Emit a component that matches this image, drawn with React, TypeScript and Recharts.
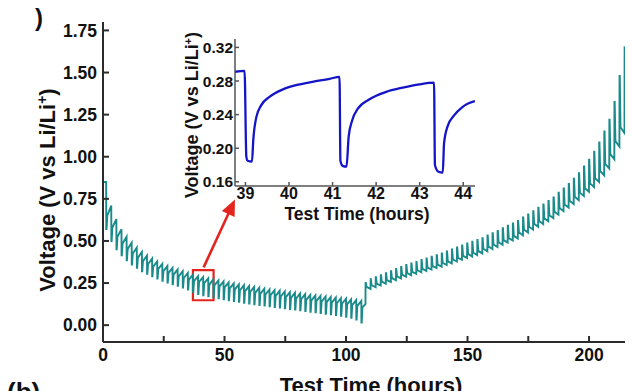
import React from 'react';
import { LineChart, Line, XAxis, YAxis, ReferenceArea, ReferenceLine } from 'recharts';

// ---------- main chart data (GITT cycles) ----------
const startVoltage = 0.85;

const dischargeTimes = [
  1.3, 3.4, 5.5, 7.6, 9.7, 11.8, 13.9, 16.0, 18.1, 20.2, 22.3, 24.4, 26.5, 28.6, 30.7, 32.8, 34.9,
  37.0, 39.1, 41.2, 43.3, 45.4, 47.5, 49.6, 51.7, 53.8, 55.9, 58.0, 60.1, 62.2, 64.3, 66.4, 68.5,
  70.6, 72.7, 74.8, 76.9, 79.0, 81.1, 83.2, 85.3, 87.4, 89.5, 91.6, 93.7, 95.8, 97.9, 100.0, 102.1,
  104.2, 106.3,
];
const dischargePeaks = [
  0.85, 0.71, 0.63, 0.57, 0.525, 0.49, 0.46, 0.435, 0.413, 0.395, 0.378, 0.364, 0.351, 0.34, 0.33,
  0.32, 0.31, 0.3, 0.291, 0.285, 0.278, 0.272, 0.266, 0.26, 0.254, 0.248, 0.242, 0.237, 0.232, 0.227,
  0.222, 0.217, 0.212, 0.208, 0.204, 0.2, 0.196, 0.192, 0.188, 0.184, 0.18, 0.177, 0.174, 0.17, 0.167,
  0.164, 0.16, 0.157, 0.153, 0.149, 0.144,
];
const dischargeDips = [
  0.57, 0.5, 0.45, 0.415, 0.385, 0.36, 0.34, 0.32, 0.305, 0.29, 0.276, 0.264, 0.253, 0.243, 0.234,
  0.224, 0.211, 0.197, 0.185, 0.178, 0.172, 0.166, 0.16, 0.154, 0.148, 0.143, 0.138, 0.133, 0.128,
  0.124, 0.12, 0.116, 0.112, 0.108, 0.104, 0.1, 0.096, 0.092, 0.088, 0.084, 0.08, 0.076, 0.072, 0.068,
  0.064, 0.06, 0.056, 0.05, 0.043, 0.034, 0.015,
];
const dischargeKnees = [
  0.65, 0.58, 0.525, 0.485, 0.453, 0.425, 0.401, 0.38, 0.363, 0.347, 0.334, 0.321, 0.31, 0.3, 0.29,
  0.28, 0.27, 0.261, 0.257, 0.249, 0.241, 0.236, 0.23, 0.224, 0.218, 0.212, 0.207, 0.202, 0.197, 0.192,
  0.187, 0.182, 0.178, 0.174, 0.17, 0.166, 0.162, 0.158, 0.154, 0.15, 0.147, 0.144, 0.14, 0.137, 0.134,
  0.13, 0.127, 0.123, 0.119, 0.114, 0.105,
];

const chargeTimes = [
  108.0, 110.09, 112.18, 114.27, 116.36, 118.45, 120.54, 122.63, 124.72, 126.81, 128.9, 130.99,
  133.08, 135.17, 137.26, 139.35, 141.44, 143.53, 145.62, 147.71, 149.8, 151.89, 153.98, 156.07,
  158.16, 160.25, 162.34, 164.43, 166.52, 168.61, 170.7, 172.79, 174.88, 176.97, 179.06, 181.15,
  183.24, 185.33, 187.42, 189.51, 191.6, 193.69, 195.78, 197.87, 199.96, 202.05, 204.14, 206.23,
  208.32, 210.41, 212.5, 214.59,
];
const chargeBases = [
  0.125, 0.215, 0.225, 0.235, 0.246, 0.256, 0.267, 0.278, 0.288, 0.297, 0.305, 0.314, 0.322, 0.33,
  0.339, 0.347, 0.357, 0.367, 0.378, 0.388, 0.399, 0.408, 0.416, 0.426, 0.439, 0.452, 0.464, 0.477,
  0.49, 0.502, 0.515, 0.533, 0.55, 0.567, 0.584, 0.6, 0.617, 0.635, 0.656, 0.677, 0.698, 0.719, 0.742,
  0.767, 0.792, 0.82, 0.85, 0.89, 0.93, 0.985, 1.06, 1.14,
];
const chargeSpikes = [
  0.25, 0.273, 0.285, 0.296, 0.309, 0.32, 0.333, 0.345, 0.357, 0.367, 0.376, 0.387, 0.396, 0.406,
  0.416, 0.426, 0.437, 0.449, 0.461, 0.473, 0.485, 0.496, 0.506, 0.517, 0.532, 0.546, 0.56, 0.575,
  0.59, 0.604, 0.619, 0.639, 0.658, 0.677, 0.697, 0.716, 0.737, 0.759, 0.786, 0.812, 0.838, 0.869,
  0.902, 0.942, 0.982, 1.03, 1.085, 1.15, 1.22, 1.325, 1.48, 1.65,
];
const chargeKnees = [
  0.228, 0.237, 0.247, 0.258, 0.268, 0.279, 0.29, 0.3, 0.309, 0.317, 0.326, 0.334, 0.342, 0.351,
  0.359, 0.369, 0.379, 0.39, 0.4, 0.411, 0.423, 0.431, 0.441, 0.454, 0.467, 0.479, 0.492, 0.505,
  0.517, 0.53, 0.551, 0.568, 0.585, 0.602, 0.618, 0.635, 0.653, 0.674, 0.695, 0.716, 0.739, 0.762,
  0.787, 0.813, 0.842, 0.873, 0.915, 0.957, 1.015, 1.093, 1.175,
];

// ---------- inset data ----------
const insetTime = [
  38.76, 38.98, 39.02, 39.05, 39.15, 39.18, 39.25, 39.36, 39.55, 39.86, 40.16, 40.54, 40.93, 41.16,
  41.18, 41.23, 41.32, 41.37, 41.45, 41.58, 41.84, 42.23, 42.61, 42.99, 43.33, 43.35, 43.43, 43.53,
  43.56, 43.64, 43.79, 43.98, 44.27,
];
const insetVoltage = [
  0.291, 0.292, 0.19, 0.185, 0.184, 0.21, 0.237, 0.251, 0.261, 0.27, 0.275, 0.279, 0.2825, 0.285,
  0.185, 0.179, 0.178, 0.214, 0.233, 0.247, 0.258, 0.267, 0.272, 0.276, 0.278, 0.18, 0.172, 0.171,
  0.206, 0.226, 0.239, 0.249, 0.256,
];

const mainXTicks = [0, 25, 50, 75, 100, 125, 150, 175, 200];
const mainXLabelled = [0, 50, 100, 150, 200];
const mainYTicks = [0, 0.25, 0.5, 0.75, 1.0, 1.25, 1.5, 1.75];
const insetXTicks = [39, 40, 41, 42, 43, 44];
const insetYTicks = [0.16, 0.2, 0.24, 0.28, 0.32];

// build tables
const mainData: { t: number; v: number }[] = [{ t: 0, v: startVoltage }];
dischargeTimes.forEach((t, k) => {
  mainData.push({ t, v: dischargePeaks[k] });
  mainData.push({ t: t + 0.04, v: dischargeDips[k] });
  mainData.push({ t: t + 0.16, v: dischargeDips[k] });
  mainData.push({ t: t + 0.45, v: dischargeKnees[k] });
});
chargeTimes.forEach((t, k) => {
  mainData.push({ t, v: chargeBases[k] });
  mainData.push({ t: t + 0.05, v: chargeSpikes[k] });
  mainData.push({ t: t + 0.15, v: chargeSpikes[k] });
  if (k < chargeKnees.length) mainData.push({ t: t + 0.45, v: chargeKnees[k] });
});

const insetData = insetTime.map((t, i) => ({ t, v: insetVoltage[i] }));

const FONT = '"Liberation Sans", Arial, Helvetica, sans-serif';
const AXIS = '#2b2b2b';
const RED = '#e3241f';

const ArrowShape = (props: any) => {
  const { x1, y1, x2, y2 } = props;
  const dx = x2 - x1;
  const dy = y2 - y1;
  const len = Math.hypot(dx, dy) || 1;
  const ux = dx / len;
  const uy = dy / len;
  const head = 16;
  const half = 7;
  const bx = x2 - ux * head;
  const by = y2 - uy * head;
  return (
    <g>
      <line x1={x1} y1={y1} x2={bx + ux * 2} y2={by + uy * 2} stroke={RED} strokeWidth={2.6} />
      <polygon
        points={`${x2},${y2} ${bx - uy * half},${by + ux * half} ${bx + uy * half},${by - ux * half}`}
        fill={RED}
      />
    </g>
  );
};

export default function App() {
  return (
    <div style={{ position: 'absolute', left: 0, top: 0, width: 633, height: 391, background: '#fff', overflow: 'hidden', fontFamily: FONT }}>
      <div style={{ position: 'absolute', left: 0, top: 0 }}>
        <LineChart width={633} height={391} data={mainData} margin={{ top: 22, right: 8, bottom: 0, left: 0 }}>
          <XAxis
            dataKey="t"
            type="number"
            domain={[0, 214.8]}
            ticks={mainXTicks}
            interval={0}
            tickFormatter={(v: number) => (mainXLabelled.includes(v) ? String(v) : '')}
            height={49}
            tickSize={-6}
            tickMargin={13}
            stroke={AXIS}
            strokeWidth={2}
            allowDataOverflow
            tick={{ fill: '#111', fontSize: 17.5, fontWeight: 700, fontFamily: FONT }}
          />
          <XAxis xAxisId="top" orientation="top" type="number" domain={[0, 214.8]} height={0} tick={false} tickLine={false} stroke={AXIS} strokeWidth={2} />
          <YAxis
            type="number"
            domain={[-0.1, 1.8]}
            ticks={mainYTicks}
            interval={0}
            tickFormatter={(v: number) => v.toFixed(2)}
            width={103}
            tickSize={-6}
            tickMargin={12}
            stroke={AXIS}
            strokeWidth={2}
            allowDataOverflow
            tick={{ fill: '#111', fontSize: 17.5, fontWeight: 700, fontFamily: FONT }}
          />
          <YAxis yAxisId="right" orientation="right" type="number" domain={[-0.1, 1.8]} width={0} tick={false} tickLine={false} stroke={AXIS} strokeWidth={2} />
          <Line type="linear" dataKey="v" stroke="#1a8a8a" strokeWidth={1.9} dot={false} isAnimationActive={false} />
          <ReferenceArea x1={37} x2={45.5} y1={0.148} y2={0.327} fill="none" fillOpacity={0} stroke={RED} strokeWidth={2.2} />
          <ReferenceLine segment={[{ x: 41.4, y: 0.343 }, { x: 54.3, y: 0.746 }]} shape={ArrowShape} />
        </LineChart>
      </div>

      <div style={{ position: 'absolute', left: 170, top: 30 }}>
        <LineChart width={320} height={200} data={insetData} margin={{ top: 9, right: 15, bottom: 0, left: 0 }}>
          <XAxis
            dataKey="t"
            type="number"
            domain={[38.76, 44.27]}
            ticks={insetXTicks}
            interval={0}
            height={44}
            tickSize={-4}
            tickMargin={6}
            stroke="#555"
            strokeWidth={1.5}
            allowDataOverflow
            tick={{ fill: '#111', fontSize: 16, fontWeight: 700, fontFamily: FONT }}
          />
          <XAxis xAxisId="top" orientation="top" type="number" domain={[38.76, 44.27]} height={0} tick={false} tickLine={false} stroke="#555" strokeWidth={1.5} />
          <YAxis
            type="number"
            domain={[0.155, 0.33]}
            ticks={insetYTicks}
            interval={0}
            tickFormatter={(v: number) => v.toFixed(2)}
            width={65}
            tickSize={-4}
            tickMargin={6}
            stroke="#555"
            strokeWidth={1.5}
            allowDataOverflow
            tick={{ fill: '#111', fontSize: 15.5, fontWeight: 700, fontFamily: FONT }}
          />
          <YAxis yAxisId="right" orientation="right" type="number" domain={[0.155, 0.33]} width={0} tick={false} tickLine={false} stroke="#555" strokeWidth={1.5} />
          <Line type="monotone" dataKey="v" stroke="#1515c8" strokeWidth={2.3} dot={false} isAnimationActive={false} />
        </LineChart>
      </div>

      <svg width={633} height={391} style={{ position: 'absolute', left: 0, top: 0, pointerEvents: 'none' }} fontFamily={FONT} fontWeight={700} fill="#111">
        <text transform="translate(55,190) rotate(-90)" textAnchor="middle" fontSize={22}>
          Voltage (V vs Li/Li<tspan dy={-8} fontSize={14}>+</tspan>
          <tspan dy={8}>)</tspan>
        </text>
        <text x={371} y={393} textAnchor="middle" fontSize={22}>Test Time (hours)</text>
        <text x={7} y={401} fontSize={26}>(b)</text>
        <text x={35} y={26} fontSize={24}>)</text>
        <text transform="translate(198,115) rotate(-90)" textAnchor="middle" fontSize={18}>
          Voltage (V vs Li/Li<tspan dy={-6} fontSize={11}>+</tspan>
          <tspan dy={6}>)</tspan>
        </text>
        <text x={357} y={219.5} textAnchor="middle" fontSize={17.5}>Test Time (hours)</text>
      </svg>
    </div>
  );
}
